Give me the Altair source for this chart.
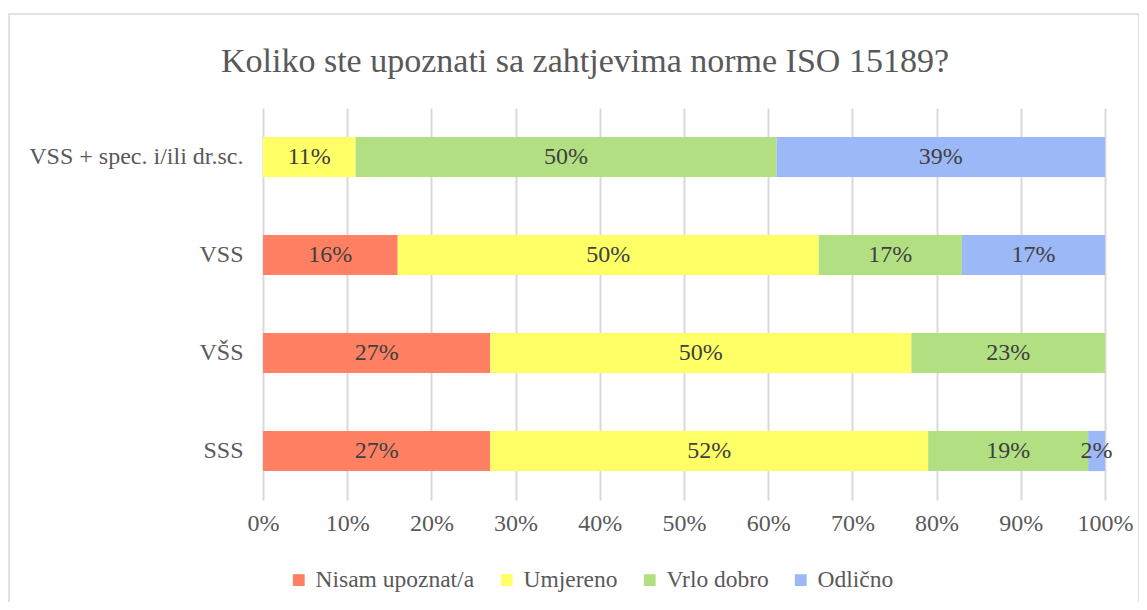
import altair as alt
import pandas as pd

categories = ["VSS + spec. i/ili dr.sc.", "VSS", "VŠS", "SSS"]
series = ["Nisam upoznat/a", "Umjereno", "Vrlo dobro", "Odlično"]
colors = ["#FF8062", "#FFFF66", "#B2DF82", "#9DB8F7"]
nisam = [0, 16, 27, 27]
umjereno = [11, 50, 50, 52]
vrlo_dobro = [50, 17, 23, 19]
odlicno = [39, 17, 0, 2]
x_ticks = [0, 10, 20, 30, 40, 50, 60, 70, 80, 90, 100]

rows = []
for i, c in enumerate(categories):
    for j, (s, vals) in enumerate(zip(series, [nisam, umjereno, vrlo_dobro, odlicno])):
        rows.append({"cat": c, "series": s, "order": j, "value": vals[i]})
df = pd.DataFrame(rows)

FONT = "Liberation Serif"
FS = 24

base = alt.Chart(df).transform_filter(alt.datum.value > 0).transform_stack(
    stack="value", groupby=["cat"], sort=[alt.SortField("order")], as_=["x0", "x1"]
).transform_calculate(mid="(datum.x0 + datum.x1) / 2", label="datum.value + '%'")

y_enc = alt.Y("cat:N", sort=categories, title=None,
              scale=alt.Scale(paddingInner=0.59, paddingOuter=0.295),
              axis=alt.Axis(domain=False, ticks=False, labelFont=FONT, labelFontSize=FS,
                            labelColor="#595959", labelPadding=20, grid=False, labelLimit=400))

bars = base.mark_bar().encode(
    x=alt.X("x0:Q", scale=alt.Scale(domain=[0, 100], nice=False), title=None,
            axis=alt.Axis(values=x_ticks, labelExpr="datum.value + '%'", domain=False, ticks=False,
                          grid=True, gridColor="#D9D9D9", gridWidth=2, labelFont=FONT,
                          labelFontSize=FS, labelColor="#595959", labelPadding=11,
                          labelFlush=False, labelOverlap=False, labelBound=False)),
    x2="x1:Q",
    y=y_enc,
    color=alt.Color("series:N", sort=series,
                    scale=alt.Scale(domain=series, range=colors),
                    legend=alt.Legend(title=None, orient="none", legendX=24, legendY=460,
                                      direction="horizontal", symbolType="square", symbolSize=140,
                                      symbolStrokeWidth=0, labelFont=FONT, labelFontSize=23.5,
                                      labelColor="#595959", columnPadding=20, labelOffset=5)),
)

texts = base.mark_text(font=FONT, fontSize=FS, color="#404040").encode(
    x=alt.X("mid:Q"),
    y=alt.Y("cat:N", sort=categories),
    text="label:N",
)

border = alt.Chart(pd.DataFrame({"a": [0]})).mark_rect(
    fillOpacity=0, stroke="#D9D9D9", strokeWidth=1.5
).encode(x=alt.value(-254), x2=alt.value(876), y=alt.value(-94), y2=alt.value(520))

chart = alt.layer(border, bars, texts).properties(
    width=842, height=392,
    title=alt.TitleParams("Koliko ste upoznati sa zahtjevima norme ISO 15189?", font=FONT,
                          fontSize=34, fontWeight="normal", color="#595959", anchor="middle",
                          baseline="middle", dx=-99, dy=87),
    autosize=alt.AutoSizeParams(type="none"),
    padding={"left": 255, "top": 100, "right": 34, "bottom": 102},
).configure(background="white").configure_view(stroke=None)

chart.save("out.html", embed_options={"renderer": "svg", "actions": False})
